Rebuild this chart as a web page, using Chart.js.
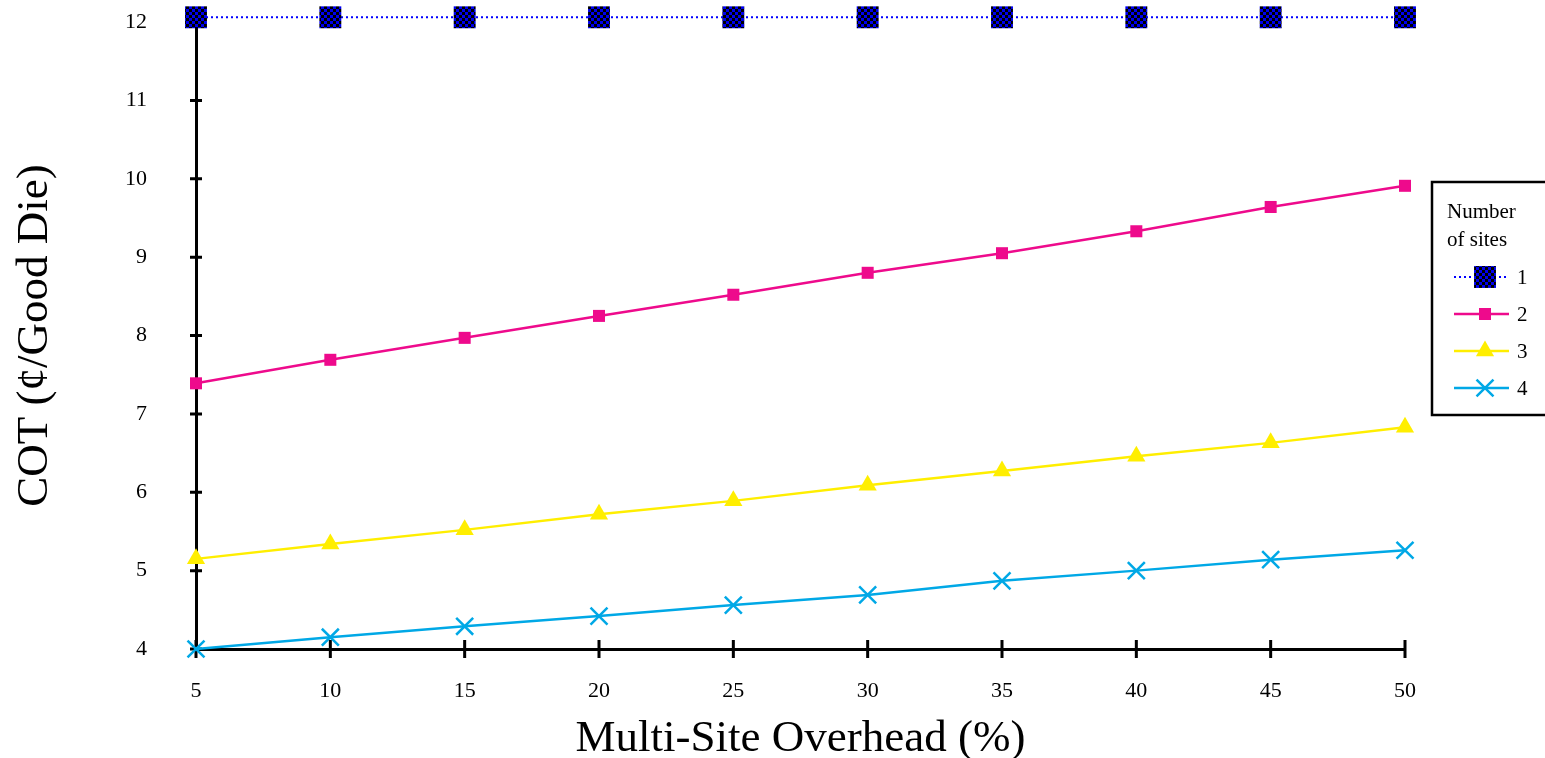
<!DOCTYPE html>
<html>
<head>
<meta charset="utf-8">
<script src="https://cdn.jsdelivr.net/npm/chart.js@4/dist/chart.umd.min.js"></script>
<style>
  html, body { margin: 0; padding: 0; background: #fff; }
  #wrap { width: 1545px; height: 758px; position: relative; }
</style>
</head>
<body>
<div id="wrap"><canvas id="c" width="1545" height="758"></canvas></div>
<script>
const categories = ['5', '10', '15', '20', '25', '30', '35', '40', '45', '50'];
const seriesNames = ['1', '2', '3', '4'];
const sites1 = [12.06, 12.06, 12.06, 12.06, 12.06, 12.06, 12.06, 12.06, 12.06, 12.06];
const sites2 = [7.39, 7.69, 7.97, 8.25, 8.52, 8.80, 9.05, 9.33, 9.64, 9.91];
const sites3 = [5.15, 5.34, 5.52, 5.72, 5.89, 6.09, 6.27, 6.46, 6.63, 6.83];
const sites4 = [4.00, 4.15, 4.29, 4.42, 4.56, 4.69, 4.87, 5.00, 5.14, 5.26];
const yTicks = [4, 5, 6, 7, 8, 9, 10, 11, 12];

const FONT = '"Liberation Serif", "Times New Roman", serif';

// checkered fill for series 1 markers
function makeChecker() {
  const c = document.createElement('canvas');
  c.width = 6; c.height = 6;
  const g = c.getContext('2d');
  g.fillStyle = '#0000EE'; g.fillRect(0, 0, 6, 6);
  g.fillStyle = '#000000'; g.fillRect(0, 0, 3, 3); g.fillRect(3, 3, 3, 3);
  return document.getElementById('c').getContext('2d').createPattern(c, 'repeat');
}
const checker = makeChecker();

function drawMarker(ctx, ds, x, y) {
  const r = ds.pointRadius;
  ctx.save();
  ctx.fillStyle = ds.pointBackgroundColor;
  ctx.strokeStyle = ds.pointBorderColor || ds.borderColor;
  ctx.lineWidth = ds.pointBorderWidth || 0;
  ctx.beginPath();
  if (ds.pointStyle === 'rect') {
    const s = Math.SQRT1_2 * r;
    ctx.rect(x - s, y - s, 2 * s, 2 * s);
    ctx.fill();
  } else if (ds.pointStyle === 'triangle') {
    ctx.moveTo(x, y - r);
    ctx.lineTo(x + r * Math.cos(Math.PI / 6), y + r / 2);
    ctx.lineTo(x - r * Math.cos(Math.PI / 6), y + r / 2);
    ctx.closePath();
    ctx.fill();
  } else if (ds.pointStyle === 'crossRot') {
    const o = Math.SQRT1_2 * r;
    ctx.moveTo(x - o, y - o); ctx.lineTo(x + o, y + o);
    ctx.moveTo(x - o, y + o); ctx.lineTo(x + o, y - o);
    ctx.stroke();
  }
  ctx.restore();
}

const tickPlugin = {
  id: 'crossTicks',
  beforeDatasetsDraw(chart) {
    const ctx = chart.ctx, xs = chart.scales.x, ys = chart.scales.y;
    ctx.save();
    ctx.strokeStyle = '#000';
    ctx.lineWidth = 3;
    ctx.beginPath();
    xs.ticks.forEach((t, i) => {
      const x = xs.getPixelForTick(i);
      ctx.moveTo(x, ys.bottom - 9); ctx.lineTo(x, ys.bottom + 9);
    });
    ys.ticks.forEach((t, i) => {
      const y = ys.getPixelForTick(i);
      ctx.moveTo(xs.left - 6, y); ctx.lineTo(xs.left + 6, y);
    });
    ctx.stroke();
    ctx.restore();
  }
};

const legendPlugin = {
  id: 'boxLegend',
  afterDraw(chart) {
    const ctx = chart.ctx;
    ctx.save();
    ctx.fillStyle = '#fff';
    ctx.fillRect(1432, 182, 130, 233);
    ctx.lineWidth = 2.5;
    ctx.strokeStyle = '#000';
    ctx.strokeRect(1432, 182, 130, 233);
    ctx.fillStyle = '#000';
    ctx.font = '21px ' + FONT;
    ctx.textBaseline = 'middle';
    ctx.textAlign = 'left';
    ctx.fillText('Number', 1447, 212);
    ctx.fillText('of sites', 1447, 240);
    chart.data.datasets.forEach((ds, i) => {
      const y = 277 + i * 37;
      ctx.save();
      ctx.strokeStyle = ds.borderColor;
      ctx.lineWidth = ds.borderWidth;
      ctx.setLineDash(ds.borderDash || []);
      ctx.beginPath();
      ctx.moveTo(1454, y); ctx.lineTo(1509, y);
      ctx.stroke();
      ctx.restore();
      drawMarker(ctx, ds, 1485, y);
      ctx.fillStyle = '#000';
      ctx.fillText(ds.label, 1517, y + 1);
    });
    ctx.restore();
  }
};

const datasets = [
  { label: seriesNames[0], data: sites1, borderColor: '#0000FF', borderWidth: 2, borderDash: [2, 3],
    pointStyle: 'rect', pointRadius: 15.5, pointBackgroundColor: checker, pointBorderWidth: 0, clip: false },
  { label: seriesNames[1], data: sites2, borderColor: '#EE0A8C', borderWidth: 2.5,
    pointStyle: 'rect', pointRadius: 8.5, pointBackgroundColor: '#EE0A8C', pointBorderWidth: 0, clip: false },
  { label: seriesNames[2], data: sites3, borderColor: '#FFEE00', borderWidth: 2.5,
    pointStyle: 'triangle', pointRadius: 10.5, pointBackgroundColor: '#FFEE00', pointBorderWidth: 0, clip: false },
  { label: seriesNames[3], data: sites4, borderColor: '#00A8E6', borderWidth: 2.5,
    pointStyle: 'crossRot', pointRadius: 12, pointBackgroundColor: '#00A8E6', pointBorderColor: '#00A8E6', pointBorderWidth: 2.5, clip: false }
];
datasets.forEach(d => { d.backgroundColor = d.pointBackgroundColor; d.tension = 0; d.fill = false; });

new Chart(document.getElementById('c'), {
  type: 'line',
  data: { labels: categories, datasets: datasets },
  plugins: [tickPlugin, legendPlugin],
  options: {
    responsive: false,
    animation: false,
    devicePixelRatio: 1,
    layout: { autoPadding: false, padding: { top: 22, right: 140, left: 0, bottom: 0 } },
    plugins: { legend: { display: false }, tooltip: { enabled: false } },
    scales: {
      x: {
        type: 'category',
        offset: false,
        grid: { display: false },
        border: { display: true, color: '#000', width: 3 },
        ticks: { color: '#000', font: { family: FONT, size: 22 }, padding: 21, maxRotation: 0, autoSkip: false },
        title: { display: true, text: 'Multi-Site Overhead (%)', color: '#000',
                 font: { family: FONT, size: 45, lineHeight: 0.7 }, padding: { top: 0, bottom: 3.5 } },
        afterFit(s) { s.height = 109; s.paddingLeft = 0; s.paddingRight = 0; }
      },
      y: {
        min: 4, max: 12,
        afterBuildTicks(s) { s.ticks = yTicks.map(v => ({ value: v })); },
        grid: { display: false },
        border: { display: true, color: '#000', width: 3 },
        ticks: { color: '#000', font: { family: FONT, size: 22 }, padding: 41 },
        title: { display: true, text: 'COT (¢/Good Die)', color: '#000',
                 font: { family: FONT, size: 45, lineHeight: 1 }, padding: { top: 13, bottom: 0 } },
        afterFit(s) { s.width = 196; s.paddingTop = 0; s.paddingBottom = 0; }
      }
    }
  }
});
</script>
</body>
</html>
